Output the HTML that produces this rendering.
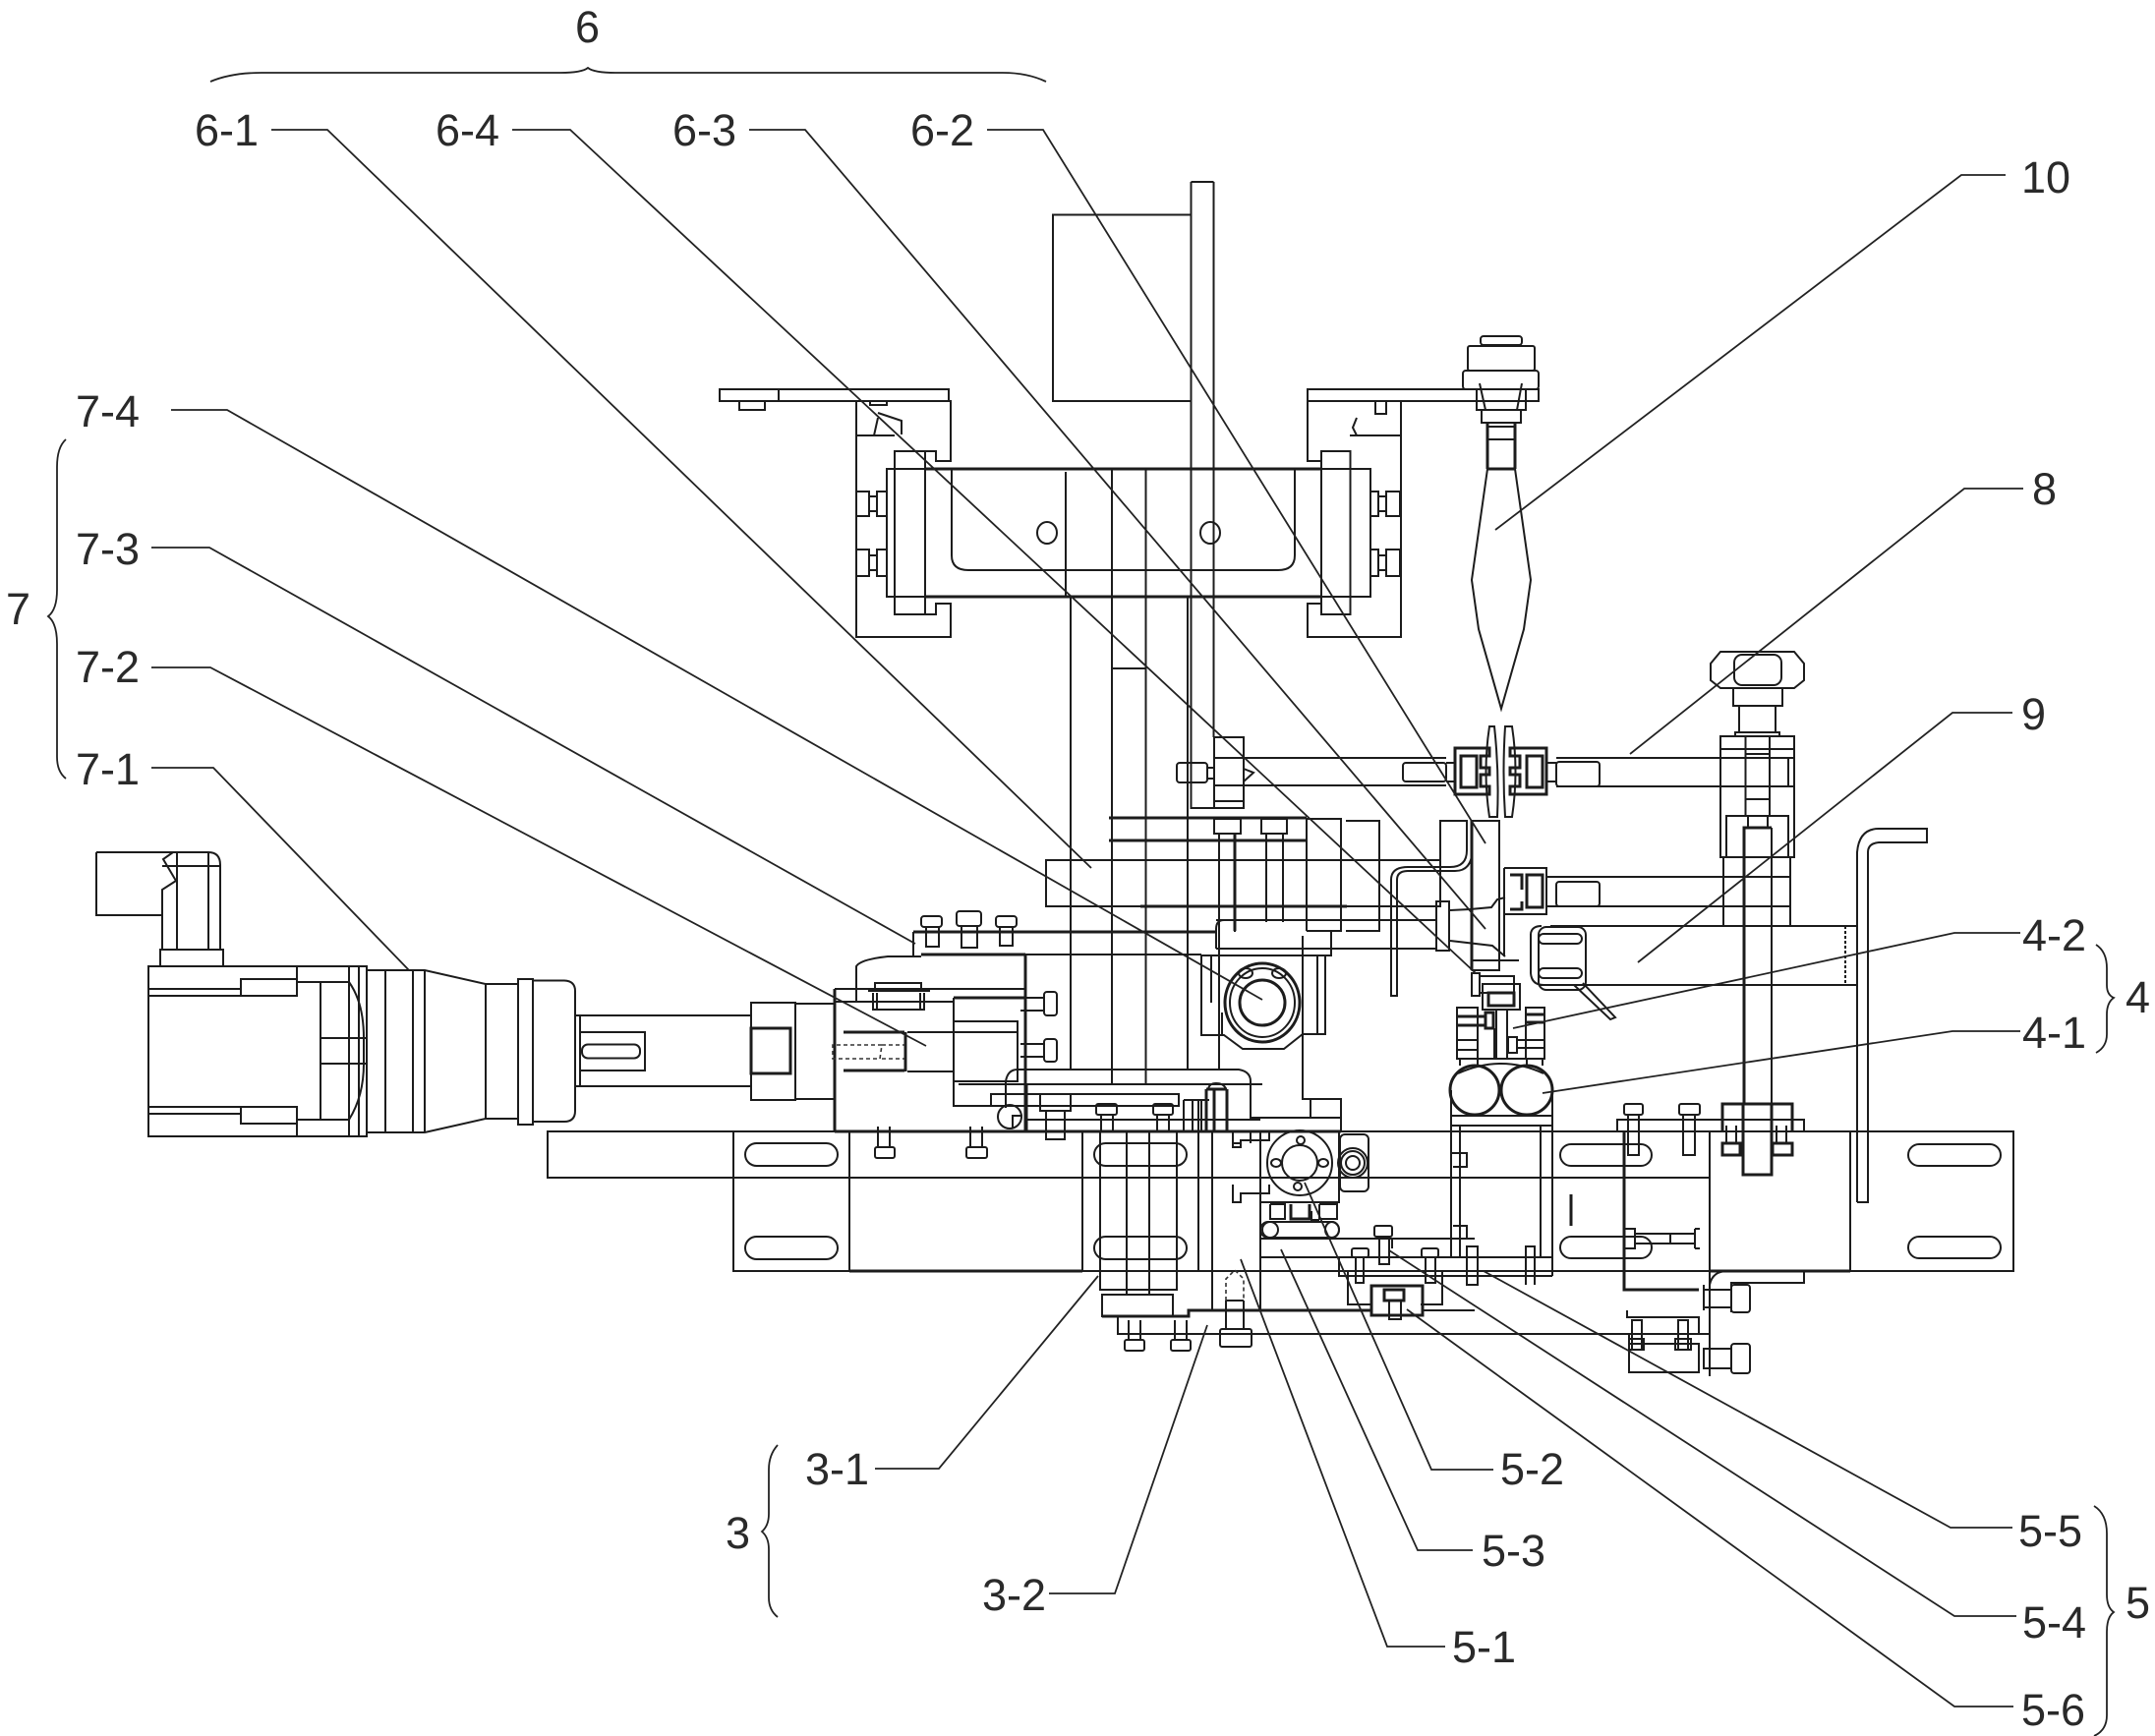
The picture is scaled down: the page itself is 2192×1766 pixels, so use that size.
<!DOCTYPE html>
<html><head><meta charset="utf-8"><style>
html,body{margin:0;padding:0;background:#fff}
svg{display:block}
text{font-family:"Liberation Sans",sans-serif;font-size:45px;fill:#2a2a2a}
.d{fill:none;stroke:#1c1c1c;stroke-width:2}
.t{fill:none;stroke:#1c1c1c;stroke-width:3}
.l{fill:none;stroke:#222;stroke-width:1.8}
.h{fill:none;stroke:#333;stroke-width:1.6;stroke-dasharray:4 3}
</style></head><body>
<svg width="2192" height="1766" viewBox="0 0 2192 1766" xmlns="http://www.w3.org/2000/svg">
<g class="d">
<!-- motor -->
<path d="M98 867H212Q224 867 224 880V966M98 867V931H165M212 867V966M180 867V966M165 931V905L179 896L166 874L176 867M165 931V966M165 881H224"/>
<rect x="163" y="966" width="64" height="17"/>
<rect x="151" y="983" width="222" height="173"/>
<path d="M151 1006H245M151 1013H302M245 996H302V1013H245ZM302 983V1013M302 999H355M326 999V1139M326 1056H373M326 1082H373M151 1126H245M151 1133H245M245 1126H302V1143H245ZM302 1126V1156M302 1139H355M355 983V1156M365 983V1156M355 999Q370 1020 370 1056V1082Q370 1115 355 1139"/>
<path d="M373 987H432L494 1001V1138L432 1152H373ZM392 987V1152M420 987V1152M432 987V1152"/>
<path d="M494 1001H527M494 1138H527"/>
<rect x="527" y="996" width="15" height="148"/>
<path d="M542 997.5H574Q585 998 585 1008V1130Q585 1141 574 1141H542"/>
<path d="M585 1033H763M585 1105H763M590 1033V1105"/>
<rect x="590" y="1050" width="66" height="39"/>
<rect x="592" y="1062.5" width="59" height="14" rx="6"/>
<rect x="764" y="1020" width="45" height="99"/>
<rect x="764" y="1046" width="40" height="46" class="t"/>
<path d="M809 1021H850M809 1118H850"/>
<!-- base plate -->
<rect x="557" y="1151" width="189" height="47"/>
<rect x="746" y="1151" width="1302" height="142"/>
<path d="M746 1198H1739M864 1151V1293M1101 1151V1293M1219 1151V1293M1233 1151V1333M1739 1151V1400M1882 1151V1293"/>
<path class="t" d="M849 1151H1364M864 1293H1101M1739 1293H1882"/>
<rect x="758" y="1163" width="94" height="23" rx="11.5"/><rect x="758" y="1258" width="94" height="23" rx="11.5"/>
<rect x="1113" y="1163" width="94" height="23" rx="11.5"/><rect x="1113" y="1258" width="94" height="23" rx="11.5"/>
<rect x="1587" y="1164" width="93" height="22" rx="11"/><rect x="1587" y="1258" width="93" height="22" rx="11"/>
<rect x="1941" y="1164" width="94" height="22" rx="11"/><rect x="1941" y="1258" width="94" height="22" rx="11"/>
<!-- bolts under top edge -->
<rect x="890" y="1167" width="20" height="11" rx="2"/><path d="M893 1146V1167M905 1146V1167"/>
<rect x="983" y="1167" width="21" height="11" rx="2"/><path d="M987 1146V1167M999 1146V1167"/>
<!-- column 3-1 -->
<path d="M1119 1151V1312H1197V1151M1146 1151V1317M1169 1151V1317"/>
<rect x="1121" y="1317" width="72" height="22"/>
<path class="t" d="M1121 1339H1209V1333H1395"/>
<path d="M1137 1339V1357H1739M1282 1333V1151"/>
<rect x="1144" y="1363" width="20" height="11" rx="2"/><path d="M1148 1343V1363M1160 1343V1363"/>
<rect x="1191" y="1363" width="20" height="11" rx="2"/><path d="M1195 1343V1363M1207 1343V1363"/>
<rect x="1241" y="1352" width="32" height="18" rx="2"/><path d="M1247 1323V1352M1265 1323V1352M1247 1323H1265"/>
<path class="h" d="M1247 1323V1301L1256 1292L1265 1301V1323"/>
<!-- 5 hub -->
<circle cx="1322" cy="1183" r="33"/><circle cx="1322" cy="1183" r="18"/>
<ellipse cx="1298" cy="1183" rx="5" ry="4"/><ellipse cx="1346" cy="1183" rx="5" ry="4"/><circle cx="1323" cy="1160" r="4"/><circle cx="1320" cy="1207" r="4"/>
<rect x="1363" y="1154" width="29" height="58" rx="5"/><circle cx="1376" cy="1183" r="15"/><circle cx="1376" cy="1183" r="12"/><circle cx="1376" cy="1183" r="7"/>
<path d="M1254 1150V1167H1262V1160H1291V1150M1254 1205V1223H1262V1214H1291V1205"/>
<path d="M1282 1223H1362V1151"/>
<path class="t" d="M1313 1225V1240H1332V1225"/>
<path d="M1292 1225V1240H1307V1225H1292M1342 1225V1240H1360V1225H1342M1334 1232V1241H1342"/>
<rect x="1282" y="1243" width="80" height="16" rx="8"/>
<ellipse cx="1292" cy="1251" rx="8" ry="8"/><ellipse cx="1355" cy="1251" rx="7" ry="8"/>
<path d="M1282 1260H1500"/>
<path d="M1282 1279H1579M1362 1279V1298H1579"/>
<rect x="1375" y="1270" width="17" height="9" rx="2"/><path d="M1379 1279V1305H1387V1279"/>
<rect x="1398" y="1247" width="18" height="11" rx="2"/><path d="M1403 1258V1286H1413V1258"/>
<rect x="1446" y="1270" width="17" height="9" rx="2"/><path d="M1450 1279V1305H1460V1279"/>
<path d="M1371 1293H1467V1327H1445M1371 1293V1327H1395M1416 1259V1270"/>
<path class="t" d="M1395 1312V1308H1447V1338H1395ZM1408 1312H1428V1323H1408Z"/>
<path d="M1413 1323V1342H1425V1323M1447 1333H1500"/>
<!-- centre 4 rollers -->
<ellipse cx="1500" cy="1109" rx="25" ry="25" class="t"/><ellipse cx="1553" cy="1109" rx="26" ry="25" class="t"/>
<path d="M1476 1109V1135M1579 1109V1135M1483 1092Q1527 1072 1570 1092"/>
<path d="M1476 1135H1579V1145H1476ZM1476 1145V1279M1485 1145V1279M1567 1145V1279M1579 1145V1298"/>
<path d="M1492 1307V1268H1503V1307ZM1552 1307V1268H1561V1307M1476 1160V1180M1476 1173H1492V1187H1478M1478 1247H1492V1260H1478M1476 1240V1262"/>
<rect x="1508" y="1001" width="38" height="26"/><rect x="1514" y="1010" width="26" height="13" class="t"/>
<rect x="1505" y="993" width="35" height="17"/>
<rect x="1497" y="990" width="8" height="23"/>
<rect x="1482" y="1025" width="21" height="52"/><rect x="1552" y="1025" width="19" height="52"/>
<path class="t" d="M1482 1034H1510M1482 1043H1510M1552 1032H1571M1552 1040H1571"/>
<path d="M1482 1058H1503M1482 1068H1503M1543 1058H1571M1543 1066H1571M1522 1028V1077M1533 1028V1077M1520 1046V1077M1485 1077V1084M1503 1077V1084M1553 1077V1084M1569 1077V1084M1501 1077H1555"/>
<rect x="1511" y="1030" width="8" height="16" class="t"/><rect x="1534" y="1055" width="9" height="16"/>
<!-- lower right -->
<path class="t" d="M1652 1152V1312H1728"/>
<path d="M1645 1151V1139H1835V1151"/>
<rect x="1652" y="1123" width="19" height="11" rx="2"/><path d="M1656 1134V1175H1667V1134"/>
<rect x="1708" y="1123" width="21" height="11" rx="2"/><path d="M1712 1134V1175H1724V1134"/>
<path class="t" d="M1752 1151V1123H1823V1151"/>
<rect x="1752" y="1163" width="18" height="12" class="t"/><rect x="1803" y="1163" width="20" height="12" class="t"/>
<path d="M1756 1145V1163M1766 1145V1163M1807 1145V1163M1817 1145V1163"/>
<path class="t" d="M1773 1123V1195H1802V1123"/>
<path d="M1652 1250H1663V1270H1652M1663 1255H1699V1265H1663M1699 1255V1265H1724V1255H1699M1724 1250H1729M1724 1270H1729M1724 1250V1270"/>
<path class="t" d="M1598 1215V1247"/>
<path d="M1739 1307Q1742 1293 1757 1293H1835V1305H1761V1335M1733 1307V1333M1733 1312H1761M1733 1330H1761"/>
<rect x="1761" y="1307" width="19" height="28" rx="3"/>
<path d="M1733 1372H1761V1392H1733Z"/><rect x="1761" y="1367" width="19" height="30" rx="3"/>
<path d="M1655 1333V1340H1728V1356M1657 1367H1728V1396H1657V1358"/>
<rect x="1660" y="1343" width="10" height="30"/><rect x="1707" y="1343" width="10" height="30"/>
<rect x="1657" y="1362" width="15" height="11"/><rect x="1704" y="1362" width="16" height="11"/>
<!-- top post -->
<path d="M1211.5 185V822H1265V750H1235V822M1234.5 185V750M1211.5 185H1234.5"/>
<rect x="1071" y="218.5" width="140.5" height="189.5" />
<path d="M732 396H965V408H732ZM792 396V408M752 408V417H778V408"/>
<path d="M871 408H967V469H952V459H910V625H952V614H967V648H871ZM871 443H910"/>
<path d="M885 408V412H902V408M893 420L917 428V442M889 443L893 425"/>
<rect x="910" y="459" width="31" height="166"/>
<path d="M1330 396H1565V408H1330ZM1330 396M1330 408V469H1344M1425 408V648H1330V614H1344M1344 459H1373.5V625H1344ZM1373 443H1425"/>
<path d="M1399 408V421H1410V408M1380 425L1376 435L1380 443"/>
<rect x="902" y="477" width="492" height="130"/>
<path class="t" d="M941 477H1344M941 607H1344"/>
<path d="M968 477V565Q968 580 985 580H1300Q1317 580 1317 565V477"/>
<ellipse cx="1065" cy="542" rx="10" ry="11"/><ellipse cx="1231" cy="542" rx="10" ry="11"/>
<path d="M1084 480V607M1089 607V1087M1131 477V1104M1165.5 477V1104M1208 607V1087M1131 680H1165.5"/>
<rect x="871" y="500" width="13" height="25"/><rect x="884" y="505" width="8" height="15"/><rect x="892" y="500" width="10" height="25"/>
<rect x="871" y="559" width="13" height="27"/><rect x="884" y="565" width="8" height="15"/><rect x="892" y="559" width="10" height="27"/>
<rect x="1394" y="500" width="8" height="25"/><rect x="1402" y="505" width="8" height="15"/><rect x="1410" y="500" width="14" height="25"/>
<rect x="1394" y="559" width="8" height="27"/><rect x="1402" y="565" width="8" height="15"/><rect x="1410" y="559" width="14" height="27"/>
<!-- spear knob -->
<rect x="1506" y="342" width="42" height="9" rx="3"/>
<rect x="1493" y="352" width="68" height="25" rx="2"/>
<rect x="1488" y="377" width="77" height="19" rx="3"/>
<path d="M1502 396V417H1552V396M1507 417V430H1547V417M1505 390L1511 417M1548 390L1543 417"/>
<path class="t" d="M1513 430V477M1541 430V477M1513 477H1541"/>
<path d="M1513 447H1541M1513 434H1541"/>
<path d="M1513 477L1497 590L1504 640L1527 721L1550 640L1557 590L1541 477"/>
<!-- 8 rods -->
<rect x="1197" y="776" width="31" height="20" rx="3"/>
<path d="M1228 781H1235M1228 792H1235M1235 771H1265V799H1235M1235 757V815H1265M1265 771H1471M1265 799H1471M1265 782L1275 786L1265 795"/>
<rect x="1427" y="776" width="44" height="19" rx="3"/>
<path class="t" d="M1480 761H1515V769H1506V781H1515V788H1506V800H1515V808H1480Z"/>
<rect x="1486" y="769" width="16" height="32" class="t"/>
<path d="M1471 776H1480M1471 795H1480"/>
<path d="M1515 739H1520Q1525 785 1523 831H1515Q1508 785 1515 739ZM1531 739H1538Q1545 785 1538 831H1531Q1528 785 1531 739Z"/>
<path class="t" d="M1536 761H1573V808H1536V800H1546V788H1536V781H1546V769H1536Z"/>
<rect x="1553" y="769" width="16" height="32" class="t"/>
<path d="M1573 776H1583M1573 795H1583M1583 771H1825M1583 800H1825"/>
<rect x="1583" y="775" width="44" height="25" rx="3"/>
<!-- nut -->
<path d="M1750 663H1825L1835 675V692L1825 700H1750L1740 692V675Z"/>
<rect x="1764" y="666" width="48" height="31" rx="8"/>
<path d="M1763 700V718H1813V700M1769 718V745M1806 718V745M1765 749V745H1810V749"/>
<rect x="1750" y="749" width="75" height="123"/>
<path d="M1750 762H1825M1775.5 749V830M1800 749V830M1775.5 767H1800M1775 813H1800V800M1800 771H1819V800"/>
<rect x="1756" y="830" width="63" height="42"/>
<path d="M1778 830V842M1798 830V842"/>
<path class="t" d="M1774 1123V842H1802"/>
<path d="M1802 842V1123"/>
<rect x="1753" y="872" width="68" height="70"/>
<path d="M1573 892H1821M1573 922H1821"/>
<path d="M1530 883H1573V930H1530V883"/>
<path class="t" d="M1536 890H1548V905M1536 925H1548V917"/>
<rect x="1553" y="890" width="16" height="33" class="t"/>
<rect x="1583" y="897" width="44" height="25" rx="3"/>
<!-- 9 plate -->
<path d="M1577 942H1889M1565 1002H1889M1557 950V990Q1558 1002 1570 1002M1557 950Q1558 942 1568 942"/>
<path stroke-dasharray="3 2" d="M1877 942V1002"/>
<rect x="1565" y="943" width="48" height="64" rx="8"/>
<rect x="1565" y="950" width="44" height="10" rx="5"/><rect x="1565" y="985" width="44" height="10" rx="5"/>
<path d="M1601 1002L1638 1037L1643 1035L1610 1000"/>
<path d="M1889 1223V867Q1891 843 1911 843H1960V857H1911Q1900 858 1900 867V1223H1889"/>
<!-- 6 group bars -->
<path class="t" d="M1128 832H1329M1128 855H1329"/>
<rect x="1064" y="875" width="401" height="47"/>
<path d="M1465 875V835H1492V865Q1492 882 1475 882H1432Q1415 882 1415 895V1013H1421V895Q1421 886 1432 886H1480Q1497 886 1497.5 865V835H1525V987H1497.5V835"/>
<path class="t" d="M1160 922H1370M1497 835V987"/>
<path d="M1235 833H1262V848H1235ZM1283 833H1309V848H1283ZM1240 848V1087M1256 848V948M1288 848V938M1305 848V938"/>
<path class="t" d="M1256 848V947"/>
<path d="M1329 833H1364V947H1329M1329 833V947M1369 835H1403V947H1369"/>
<path d="M1237 936H1461M1237 965H1461M1237 945V965M1237 945Q1237 936 1245 936"/>
<rect x="1461" y="917" width="13" height="50"/>
<path d="M1475 926L1495 925L1517 923L1523 915L1531 913M1475 957L1518 962L1531 973M1530 883V973M1497 977H1545"/>
<path class="t" d="M1237 948H929"/>
<path d="M1354 948V972H1222M1237 965H1354M1325 952V1118H1364V1150M1333 1118V1137M1272 1137H1364"/>
<!-- pillow block -->
<path d="M1222 972V1053H1245L1264 1067H1306L1325 1052H1348V972"/>
<path d="M1232 972V1020M1340 972V1052M1243 1053V1030M1240 1050V1010"/>
<ellipse cx="1284" cy="1020" rx="38" ry="40" class="t"/><ellipse cx="1284" cy="1020" rx="33" ry="35"/><ellipse cx="1284" cy="1020" rx="23" ry="23" class="t"/>
<ellipse cx="1267" cy="990" rx="7" ry="5"/><ellipse cx="1301" cy="990" rx="7" ry="5"/>
<!-- left block 7 -->
<path d="M929 948V972"/>
<path class="t" d="M937 971H1043"/>
<path d="M1043 971H1222M871 1020V983Q875 976 903 973H937"/>
<path d="M849 1006H1043"/>
<path class="t" d="M849 1006V1150M1043 971V1151"/>
<path d="M890 1006V1000H937V1006M883 1008H946M888 1010V1027H940V1010M892 1010V1027M936 1010V1027M849 1019H970"/>
<rect x="937" y="932" width="21" height="11" rx="3"/><path d="M942 943V963H955V943"/>
<rect x="973" y="927" width="25" height="15" rx="3"/><path d="M978 942V964H994V942"/>
<rect x="1013" y="932" width="21" height="11" rx="3"/><path d="M1017 943V962H1030V943"/>
<rect x="1062" y="1009" width="13" height="24" rx="3"/><path d="M1038 1015H1062M1038 1028H1062"/>
<rect x="1062" y="1057" width="13" height="23" rx="3"/><path d="M1038 1062H1062M1038 1075H1062"/>
<path class="t" d="M970 1015H1043"/>
<path d="M970 1015V1125H1043M970 1039H1035V1100H970M923 1050H1035M923 1090H970"/>
<path class="t" d="M921 1050V1090M858 1050H920M858 1089H920"/>
<path class="h" d="M897 1063H847V1077H895ZM897 1063H920M897 1077H920"/>
<!-- rail 1025..1274 -->
<path d="M1023 1127V1100Q1025 1088 1035 1088H1260Q1272 1090 1272 1100V1139"/>
<path d="M975 1103H1284"/>
<path d="M1008 1113H1199V1125H1008Z"/>
<circle cx="1027" cy="1136" r="12"/>
<path d="M1030 1148V1135L1040 1135"/>
<path d="M1044 1139H1282"/>
<path class="t" d="M1044 1103V1150"/>
<rect x="1058" y="1113" width="31" height="17"/><path d="M1064 1130V1159H1083V1130"/>
<rect x="1115" y="1123" width="21" height="11" rx="2"/><path d="M1120 1134V1150M1132 1134V1150"/>
<rect x="1173" y="1123" width="20" height="11" rx="2"/><path d="M1177 1134V1150M1189 1134V1150"/>
<path d="M1204 1119H1230M1204 1119V1150M1213 1119V1150M1222 1119V1150M1204 1139H1248"/>
<path class="t" d="M1227 1150V1108M1235 1108V1150M1248 1108V1150M1227 1108H1248"/>
<path d="M1229 1108Q1230 1102 1237 1102Q1245 1102 1247 1108"/>
<path d="M1254 1150V1163H1262M1272 1150V1163"/>
<path d="M1219 1118V1150"/>
</g>
<!-- leaders -->
<g class="l">
<path d="M276 132H333L1110 883"/>
<path d="M521 132H580L1501 990"/>
<path d="M762 132H819L1511 945"/>
<path d="M1004 132H1061L1511 858"/>
<path d="M2040 178H1995L1521 539"/>
<path d="M2058 497H1998L1658 767"/>
<path d="M2047 725H1986L1666 979"/>
<path d="M174 417H231L1284 1017"/>
<path d="M154 557H213L931 960"/>
<path d="M154 679H214L942 1064"/>
<path d="M154 781H217L416 987"/>
<path d="M2055 949H1988L1539 1046"/>
<path d="M2055 1049H1986L1569 1112"/>
<path d="M890 1494H955L1117 1298"/>
<path d="M1067 1621H1134L1228 1348"/>
<path d="M1470 1675H1411L1262 1281"/>
<path d="M1498 1577H1442L1303 1271"/>
<path d="M1519 1495H1456L1327 1203"/>
<path d="M2047 1554H1984L1509 1293"/>
<path d="M2051 1644H1988L1413 1272"/>
<path d="M2048 1736H1988L1431 1332"/>
<!-- braces -->
<path d="M214 83Q235 74 266 74H570Q592 74 598 69Q604 74 626 74H1020Q1045 74 1064 83"/>
<path d="M67 447Q58 455 58 475V600Q58 620 49 627Q58 634 58 655V770Q58 785 67 792"/>
<path d="M791 1470Q782 1480 782 1495V1540Q782 1552 775 1558Q782 1564 782 1576V1625Q782 1638 791 1645"/>
<path d="M2132 961Q2143 968 2143 985V1002Q2143 1012 2150 1015Q2143 1020 2143 1032V1052Q2143 1065 2132 1071"/>
<path d="M2130 1532Q2143 1540 2143 1560V1622Q2143 1635 2150 1640Q2143 1645 2143 1660V1745Q2143 1760 2130 1766"/>
</g>
<!-- labels -->
<text x="585" y="43">6</text>
<text x="198" y="148">6-1</text>
<text x="443" y="148">6-4</text>
<text x="684" y="148">6-3</text>
<text x="926" y="148">6-2</text>
<text x="2056" y="196">10</text>
<text x="2067" y="513">8</text>
<text x="2056" y="742">9</text>
<text x="77" y="434">7-4</text>
<text x="77" y="574">7-3</text>
<text x="77" y="694">7-2</text>
<text x="77" y="798">7-1</text>
<text x="6" y="635">7</text>
<text x="2057" y="967">4-2</text>
<text x="2057" y="1066">4-1</text>
<text x="2162" y="1030">4</text>
<text x="819" y="1510">3-1</text>
<text x="738" y="1575">3</text>
<text x="999" y="1638">3-2</text>
<text x="1526" y="1510">5-2</text>
<text x="1507" y="1593">5-3</text>
<text x="1477" y="1691">5-1</text>
<text x="2053" y="1573">5-5</text>
<text x="2057" y="1666">5-4</text>
<text x="2056" y="1755">5-6</text>
<text x="2162" y="1646">5</text>
</svg>
</body></html>
